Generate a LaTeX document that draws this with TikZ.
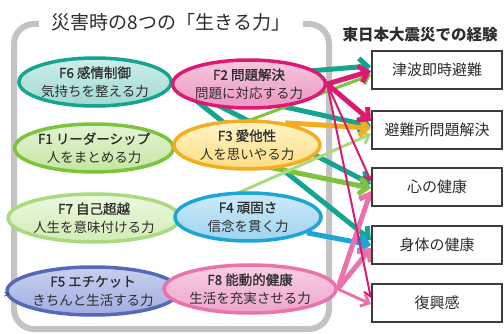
\documentclass[tikz,border=0pt]{standalone}
\usepackage{fontspec}
\setmainfont{Noto Sans CJK JP}
\newfontfamily\hdfont[FakeBold=1.2]{Noto Sans CJK JP}
\usetikzlibrary{arrows.meta,calc,backgrounds,shapes.geometric}
\definecolor{txt}{RGB}{45,45,45}
\definecolor{framec}{RGB}{195,195,195}
\definecolor{boxc}{RGB}{60,60,60}
\definecolor{cteal}{RGB}{20,165,145}
\definecolor{cmag}{RGB}{220,25,115}
\definecolor{cgreen}{RGB}{125,195,60}
\definecolor{corange}{RGB}{245,172,30}
\definecolor{clgreen}{RGB}{170,218,125}
\definecolor{cblue}{RGB}{30,165,215}
\definecolor{cpink}{RGB}{235,115,172}
\definecolor{cpurple}{RGB}{85,105,185}
\definecolor{f6t}{RGB}{205,238,232}\definecolor{f6b}{RGB}{160,218,210}
\definecolor{f2t}{RGB}{246,200,222}\definecolor{f2b}{RGB}{236,150,195}
\definecolor{f1t}{RGB}{228,244,212}\definecolor{f1b}{RGB}{195,230,160}
\definecolor{f3t}{RGB}{255,244,200}\definecolor{f3b}{RGB}{252,222,130}
\definecolor{f7t}{RGB}{236,248,222}\definecolor{f7b}{RGB}{210,236,182}
\definecolor{f4t}{RGB}{205,234,248}\definecolor{f4b}{RGB}{158,212,240}
\definecolor{f5t}{RGB}{200,208,240}\definecolor{f5b}{RGB}{160,174,225}
\definecolor{f8t}{RGB}{248,208,228}\definecolor{f8b}{RGB}{238,165,205}
\begin{document}
\begin{tikzpicture}[x=1pt,y=-1pt,
  fac/.style={ellipse, minimum width=146pt, minimum height=48pt, line width=3.5pt,
    inner sep=0pt, align=center, text=txt, font=\fontsize{13.5}{18.5}\selectfont},
  resbox/.style={draw=boxc, line width=2.2pt, minimum width=130pt, minimum height=38pt,
    fill=white, text=txt, font=\fontsize{15}{18}\selectfont},
  thick arr/.style={line width=5pt, -{Straight Barb[length=8pt,width=17pt]}},
  mid arr/.style={line width=3pt, -{Straight Barb[length=7pt,width=13pt]}},
  thin arr/.style={line width=2pt, -{Straight Barb[length=6pt,width=11pt]}},
  frameline/.style={draw=framec, line width=6pt, rounded corners=20pt}
]
\useasboundingbox (0,0) rectangle (504,334);

% factor ellipses
\node[fac, draw=cteal, top color=f6t, bottom color=f6b] (F6) at (95,82) {{\hdfont F6 感情制御}\\気持ちを整える力};
\node[fac, draw=cmag, top color=f2t, bottom color=f2b] (F2) at (249,84) {{\hdfont F2 問題解決}\\問題に対応する力};
\node[fac, draw=cgreen, top color=f1t, bottom color=f1b] (F1) at (94,148) {{\hdfont F1 リーダーシップ}\\人をまとめる力};
\node[fac, draw=corange, top color=f3t, bottom color=f3b] (F3) at (247,145) {{\hdfont F3 愛他性}\\人を思いやる力};
\node[fac, draw=clgreen, top color=f7t, bottom color=f7b] (F7) at (94,218) {{\hdfont F7 自己超越}\\人生を意味付ける力};
\node[fac, draw=cblue, top color=f4t, bottom color=f4b] (F4) at (248,217) {{\hdfont F4 頑固さ}\\信念を貫く力};
\node[fac, draw=cpurple, top color=f5t, bottom color=f5b] (F5) at (93,291) {{\hdfont F5 エチケット}\\きちんと生活する力};
\node[fac, draw=cpink, top color=f8t, bottom color=f8b] (F8) at (250,289) {{\hdfont F8 能動的健康}\\生活を充実させる力};

% result boxes
\node[resbox] (b1) at (437,70) {津波即時避難};
\node[resbox] (b2) at (437,130) {避難所問題解決};
\node[resbox] (b3) at (437,187) {心の健康};
\node[resbox] (b4) at (437,245) {身体の健康};
\node[resbox] (b5) at (437,303) {復興感};

% titles
\node[fill=white, inner xsep=13pt, inner ysep=2pt, text=txt, font=\fontsize{19}{22}\selectfont] (title) at (171,22) {災害時の8つの「生きる力」};
\node[text=txt, font=\bfseries\fontsize{15.5}{18}\selectfont] (title2) at (420,35) {東日本大震災での経験};
\node[text=txt, font=\fontsize{10}{10}\selectfont] (mark) at (7,296) {>};

\begin{scope}[on background layer]
  \draw[frameline] (14,24) rectangle (329,329);
  % F6 (teal)
  \draw[thick arr, cteal] (F6.east) -- ($(b1.west)+(0,-4)$);
  \draw[thick arr, cteal] (F6.east) -- ($(b2.west)+(0,-4)$);
  \draw[thick arr, cteal] (F6.east) -- ($(b3.west)+(0,-3)$);
  \draw[thick arr, cteal] (F6.east) -- ($(b4.west)+(0,-5)$);
  % F1 (green)
  \draw[mid arr, cgreen] (F1.east) -- ($(b1.west)+(0,5)$);
  \draw[thick arr, cgreen] (F1.east) -- ($(b3.west)+(0,1)$);
  % F7 (light green)
  \draw[mid arr, clgreen] (F7.east) -- ($(b2.west)+(0,4)$);
  % F4 (blue)
  \draw[thick arr, cblue] (F4.-15) -- (b4.west);
  % F3 (orange)
  \draw[thick arr, corange] (F3.30) -- ($(b2.west)+(0,-2)$);
  % F8 (pink)
  \draw[thick arr, cpink] (F8.east) -- ($(b3.west)+(0,4)$);
  \draw[thick arr, cpink] (F8.east) -- ($(b4.west)+(0,3)$);
  \draw[mid arr, cpink] (F8.east) -- ($(b5.west)+(0,1)$);
  % F2 (magenta)
  \draw[thick arr, cmag] (F2.east) -- ($(b1.west)+(0,1)$);
  \draw[thick arr, cmag] (F2.east) -- ($(b2.west)+(0,-9)$);
  \draw[thin arr, cmag] (F2.east) -- ($(b3.west)+(0,-6)$);
  \draw[thin arr, cmag] (F2.east) -- ($(b5.west)+(0,-5)$);
\end{scope}
\end{tikzpicture}
\end{document}
